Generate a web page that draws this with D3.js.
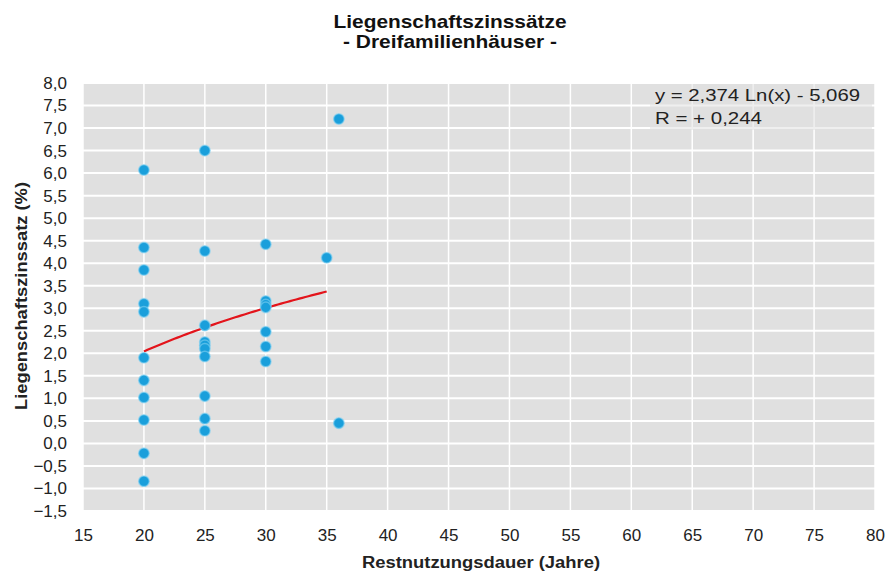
<!DOCTYPE html>
<html>
<head>
<meta charset="utf-8">
<script src="https://cdn.jsdelivr.net/npm/d3@7"></script>
<style>
  body { margin: 0; background: #fff; }
  #chart { width: 887px; height: 571px; }
</style>
</head>
<body>
<div id="chart"></div>
<script>
// Restnutzungsdauer (Jahre) and Liegenschaftszinssatz (%)
const restnutzung = [
  20, 20, 20, 20, 20, 20, 20, 20, 20, 20, 20,
  25, 25, 25, 25, 25, 25, 25, 25, 25, 25,
  30, 30, 30, 30, 30, 30, 30,
  35, 36, 36
];
const zinssatz = [
  6.07, 4.35, 3.85, 3.10, 2.92, 1.90, 1.40, 1.02, 0.52, -0.22, -0.84,
  6.50, 4.27, 2.62, 2.25, 2.18, 2.10, 1.93, 1.05, 0.55, 0.28,
  4.42, 3.16, 3.08, 3.02, 2.48, 2.15, 1.82,
  4.12, 7.20, 0.45
];
const xTicks = [15, 20, 25, 30, 35, 40, 45, 50, 55, 60, 65, 70, 75, 80];
const yTicks = [-1.5, -1.0, -0.5, 0, 0.5, 1.0, 1.5, 2.0, 2.5, 3.0, 3.5, 4.0, 4.5, 5.0, 5.5, 6.0, 6.5, 7.0, 7.5, 8.0];
// log trend printed on the chart: y = a*ln(x) + b, drawn over the data range
const trendA = 2.374, trendB = -5.069;
const trendRange = [20, 35];
const titleLines = ["Liegenschaftszinssätze", "- Dreifamilienhäuser -"];
const eqLines = ["y = 2,374 Ln(x) - 5,069", "R = + 0,244"];

const W = 887, H = 571;
const margin = { top: 83, right: 12, bottom: 60, left: 83 };
const w = W - margin.left - margin.right;
const h = H - margin.top - margin.bottom;
const fmt = v => d3.format(".1f")(v).replace(".", ",");
const NARROW = "'Liberation Sans Narrow', 'Liberation Sans', Arial, sans-serif";

const svg = d3.select("#chart").append("svg")
  .attr("width", W).attr("height", H)
  .style("font-family", "'Liberation Sans', Arial, sans-serif");

const g = svg.append("g").attr("transform", `translate(${margin.left},${margin.top})`);

const x = d3.scaleLinear().domain([15, 80]).range([0, w]);
const y = d3.scaleLinear().domain([-1.5, 8]).range([h, 0]);

g.append("rect").attr("width", w).attr("height", h).attr("fill", "#e0e0e0");

/* grid */
g.append("g").selectAll("line").data(yTicks).enter().append("line")
  .attr("x1", 0).attr("x2", w).attr("y1", d => y(d)).attr("y2", d => y(d))
  .attr("stroke", "#fff").attr("stroke-width", 2);
g.append("g").selectAll("line").data(xTicks).enter().append("line")
  .attr("x1", d => x(d)).attr("x2", d => x(d)).attr("y1", 0).attr("y2", h)
  .attr("stroke", "#fff").attr("stroke-width", 1.5);

/* axes, text only */
const xAxis = g.append("g").attr("transform", `translate(0,${h})`)
  .call(d3.axisBottom(x).tickValues(xTicks).tickSize(0).tickPadding(18).tickFormat(d3.format("d")));
xAxis.select(".domain").remove();
xAxis.selectAll("text").style("font-size", "17px").style("fill", "#222");

const yAxis = g.append("g")
  .call(d3.axisLeft(y).tickValues(yTicks).tickSize(0).tickPadding(16).tickFormat(fmt));
yAxis.select(".domain").remove();
yAxis.selectAll("text").style("font-size", "17px").style("fill", "#222");

/* trend curve */
const trendPts = d3.range(trendRange[0], trendRange[1] + 0.01, 0.25).map(v => [v, trendA * Math.log(v) + trendB]);
g.append("path").datum(trendPts)
  .attr("fill", "none").attr("stroke", "#e3141b").attr("stroke-width", 2.2)
  .attr("d", d3.line().x(d => x(d[0])).y(d => y(d[1])));

/* points */
g.append("g").selectAll("circle").data(d3.range(restnutzung.length)).enter().append("circle")
  .attr("cx", i => x(restnutzung[i])).attr("cy", i => y(zinssatz[i]))
  .attr("r", 5.3).attr("fill", "#1a9fdb")
  .attr("stroke", "#7fd0f2").attr("stroke-opacity", 0.6).attr("stroke-width", 1.5);

/* equation box */
g.append("rect").attr("x", 567).attr("y", 1).attr("width", 222).attr("height", 46)
  .attr("fill", "#e0e0e0").attr("opacity", 0.5);
const eqLen = [205, 107];
eqLines.forEach((t, i) => {
  g.append("text").attr("x", 572).attr("y", 18 + i * 23)
    .attr("textLength", eqLen[i]).attr("lengthAdjust", "spacingAndGlyphs")
    .style("font-size", "17px").style("fill", "#222").text(t);
});

/* titles */
const titleLen = [233, 214];
titleLines.forEach((t, i) => {
  svg.append("text").attr("x", 450).attr("y", 28 + i * 20).attr("text-anchor", "middle")
    .attr("textLength", titleLen[i]).attr("lengthAdjust", "spacingAndGlyphs")
    .style("font-size", "19px").style("font-weight", "bold").style("fill", "#111")
    .style("font-family", NARROW)
    .text(t);
});

svg.append("text").attr("x", 481).attr("y", 568).attr("text-anchor", "middle")
  .attr("textLength", 238).attr("lengthAdjust", "spacingAndGlyphs")
  .style("font-size", "16px").style("font-weight", "bold").style("fill", "#222")
  .style("font-family", NARROW)
  .text("Restnutzungsdauer (Jahre)");

svg.append("text").attr("transform", "rotate(-90)")
  .attr("x", -296).attr("y", 27).attr("text-anchor", "middle")
  .attr("textLength", 228).attr("lengthAdjust", "spacingAndGlyphs")
  .style("font-size", "16px").style("font-weight", "bold").style("fill", "#222")
  .style("font-family", NARROW)
  .text("Liegenschaftszinssatz (%)");
</script>
</body>
</html>
